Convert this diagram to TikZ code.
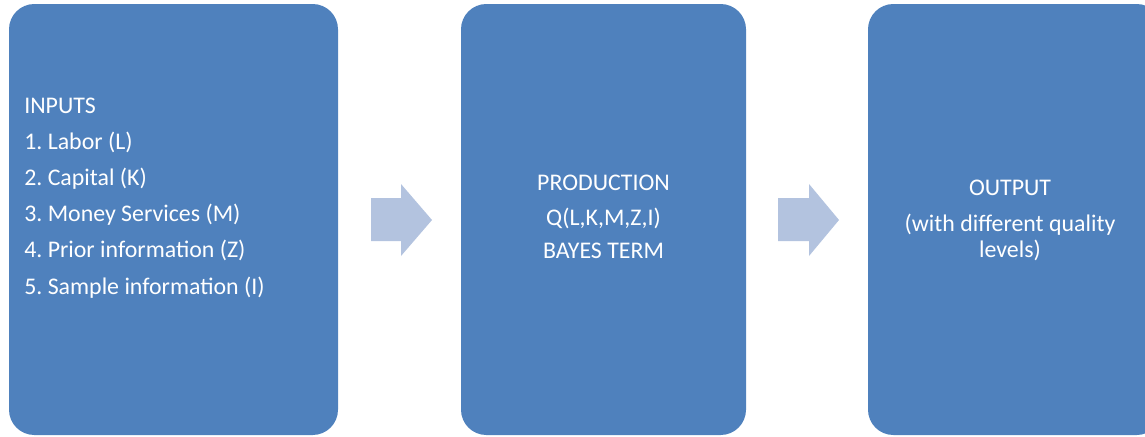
\documentclass[tikz,border=0pt]{standalone}
\usepackage{fontspec}
\setmainfont{Carlito}
\usepackage{xcolor}
\definecolor{boxblue}{RGB}{79,129,189}
\definecolor{arrowblue}{RGB}{179,195,223}
\usetikzlibrary{positioning}
\frenchspacing

\begin{document}
\begin{tikzpicture}[x=0.75pt, y=-0.75pt,
  block/.style={
    draw=none, fill=boxblue, rounded corners=19pt, inner sep=0pt
  },
  txt/.style={text=white, font=\fontsize{17.9pt}{21pt}\selectfont, inner sep=0pt},
  blockarrow/.style={fill=arrowblue, draw=none},
]

% Page frame
\clip (0,0) rectangle (1145,436);

% The three stages
\node[block, minimum width=246.75pt, minimum height=323.25pt]
  (inputs) at (173.5,219.5) {};
\node[block, minimum width=213.75pt, minimum height=323.25pt]
  (production) at (603.5,219.5) {};
\node[block, minimum width=220.5pt, minimum height=323.25pt]
  (output) at (1015,219.5) {};

% Texts
\foreach \lbl/\yy [count=\i] in {INPUTS/113, 1. Labor (L)/149.3,
    2. Capital (K)/185, 3. Money Services (M)/221.7,
    4. Prior information (Z)/257.7, 5. Sample information (I)/294}
  \node[txt, anchor=base west] (in\i) at (24,\yy) {\lbl};

\foreach \lbl/\yy [count=\i] in {PRODUCTION/190, {Q(L,K,M,Z,I)}/225,
    BAYES TERM/258}
  \node[txt, anchor=base] (prod\i) at (603.5,\yy) {\lbl};

\foreach \lbl/\yy [count=\i] in {OUTPUT/195,
    {(with different quality}/231.5, levels)/257}
  \node[txt, anchor=base] (out\i) at (1010,\yy) {\lbl};

% Block arrows between the stages
\fill[blockarrow] (371,198) -- (401,198) -- (401,184) -- (432,220)
  -- (401,256) -- (401,241) -- (371,241) -- cycle;
\fill[blockarrow] (778,198) -- (809,198) -- (809,184) -- (839,220)
  -- (809,256) -- (809,241) -- (778,241) -- cycle;

\end{tikzpicture}
\end{document}
